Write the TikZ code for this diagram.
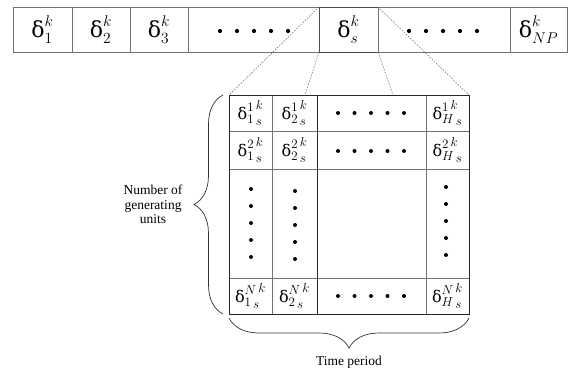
\RequirePackage{fix-cm}
\documentclass[tikz,border=0pt]{standalone}
\usepackage{fontspec}
\setmainfont{Liberation Serif}
\newfontfamily\grk{DejaVu Serif}
\usetikzlibrary{decorations.pathreplacing}

% script sizes for the strip and for the grid entries
\DeclareMathSizes{22}{22}{15.5}{13}
\DeclareMathSizes{16}{16}{13}{12.5}

\newcommand{\dlt}{\mbox{\grk δ}}
% grid entry: delta with a two-level superscript and a two-level subscript
\newcommand{\gent}[4]{$\dlt^{#1\,\raisebox{2.8pt}{$\scriptstyle #2$}}_{#3\,\raisebox{-2.8pt}{$\scriptstyle #4$}}$}

\tikzset{
  cellbox/.style={draw=black!55, line width=0.6pt, inner sep=0pt, outer sep=0pt, anchor=center},
  topcell/.style={cellbox, minimum height=45pt, font=\fontsize{22}{26}\selectfont},
  gridcell/.style={cellbox, font=\fontsize{16}{19}\selectfont},
  dotmark/.style={fill=black},
  zoomline/.style={draw=black!60, line width=0.5pt, dash pattern=on 1.6pt off 1.4pt},
  bracepath/.style={draw=black!80, line width=0.7pt, decorate},
  labeltext/.style={font=\fontsize{13.5}{14.5}\selectfont, align=center}
}

\begin{document}
\begin{tikzpicture}[x=1pt, y=-1pt]
  \useasboundingbox (0,0) rectangle (569,371);

  % upper strip of cells
  \node[topcell, minimum width=59pt] (c1) at (42.5,29.5) {$\dlt^{k}_{1}$};
  \node[topcell, minimum width=58pt] (c2) at (101,29.5) {$\dlt^{k}_{2}$};
  \node[topcell, minimum width=58pt] (c3) at (159,29.5) {$\dlt^{k}_{3}$};
  \node[topcell, minimum width=131pt] (c4) at (253.5,29.5) {};
  \node[topcell, minimum width=59pt, draw=black!70] (cs) at (348.5,29.5) {$\dlt^{k}_{s}$};
  \node[topcell, minimum width=132pt] (c6) at (444,29.5) {};
  \node[topcell, minimum width=57pt] (c7) at (538.5,29.5) {$\dlt^{k}_{NP}$};

  \foreach \x in {220,237,254,271,288} \fill[dotmark] (\x,31) circle (2.1);
  \foreach \x in {409,426,443,460,477} \fill[dotmark] (\x,31) circle (2.1);

  % detail grid
  \node[gridcell, minimum width=43pt, minimum height=36pt] (g11) at (250.5,113) {\gent{1}{k}{1}{s}};
  \node[gridcell, minimum width=45pt, minimum height=36pt] (g12) at (294.5,113) {\gent{1}{k}{2}{s}};
  \node[gridcell, minimum width=109pt, minimum height=36pt] (g13) at (371.5,113) {};
  \node[gridcell, minimum width=43pt, minimum height=36pt] (g14) at (447.5,113) {\gent{1}{k}{H}{s}};

  \node[gridcell, minimum width=43pt, minimum height=38pt] (g21) at (250.5,150) {\gent{2}{k}{1}{s}};
  \node[gridcell, minimum width=45pt, minimum height=38pt] (g22) at (294.5,150) {\gent{2}{k}{2}{s}};
  \node[gridcell, minimum width=109pt, minimum height=38pt] (g23) at (371.5,150) {};
  \node[gridcell, minimum width=43pt, minimum height=38pt] (g24) at (447.5,150) {\gent{2}{k}{H}{s}};

  \node[gridcell, minimum width=43pt, minimum height=109pt] (g31) at (250.5,223.5) {};
  \node[gridcell, minimum width=45pt, minimum height=109pt] (g32) at (294.5,223.5) {};
  \node[gridcell, minimum width=109pt, minimum height=109pt] (g33) at (371.5,223.5) {};
  \node[gridcell, minimum width=43pt, minimum height=109pt] (g34) at (447.5,223.5) {};

  \node[gridcell, minimum width=43pt, minimum height=36pt] (g41) at (250.5,296) {\gent{N}{k}{1}{s}};
  \node[gridcell, minimum width=45pt, minimum height=36pt] (g42) at (294.5,296) {\gent{N}{k}{2}{s}};
  \node[gridcell, minimum width=109pt, minimum height=36pt] (g43) at (371.5,296) {};
  \node[gridcell, minimum width=43pt, minimum height=36pt] (g44) at (447.5,296) {\gent{N}{k}{H}{s}};

  % darker frame and middle column rule
  \draw[black!85, line width=0.7pt] (g11.north west) rectangle (g44.south east);
  \draw[black!85, line width=0.7pt] (g13.north west) -- (g43.south west);

  \foreach \x in {338,354.5,371,387.5,404} {
    \fill[dotmark] (\x,113) circle (2);
    \fill[dotmark] (\x,151) circle (2);
    \fill[dotmark] (\x,296) circle (2);
  }
  \foreach \y in {189,206,223,240,257} \fill[dotmark] (251,\y) circle (2);
  \foreach \y in {191,208,225,242,259} \fill[dotmark] (295,\y) circle (2);
  \foreach \y in {187,204,221,238,255} \fill[dotmark] (446,\y) circle (2);

  % zoom lines from the selected cell down to the grid
  \coordinate (zin1) at (305,95);
  \coordinate (zin2) at (393,95);
  \draw[zoomline] (cs.north west) -- (g11.north west);
  \draw[zoomline] (cs.south west) -- (zin1);
  \draw[zoomline] (cs.south east) -- (zin2);
  \draw[zoomline] (cs.north east) -- (g14.north east);

  % braces and their labels
  \coordinate (lbA) at (223,314);
  \coordinate (lbB) at (223,95);
  \draw[bracepath, decoration={brace, amplitude=29pt}] (lbA) -- (lbB);
  \node[labeltext] (units) at (153,204.5) {Number of\\generating\\units};

  \coordinate (bbA) at (469,318);
  \coordinate (bbB) at (229,318);
  \draw[bracepath, decoration={brace, amplitude=30pt}] (bbA) -- (bbB);
  \node[labeltext] (period) at (349,362) {Time period};
\end{tikzpicture}
\end{document}
